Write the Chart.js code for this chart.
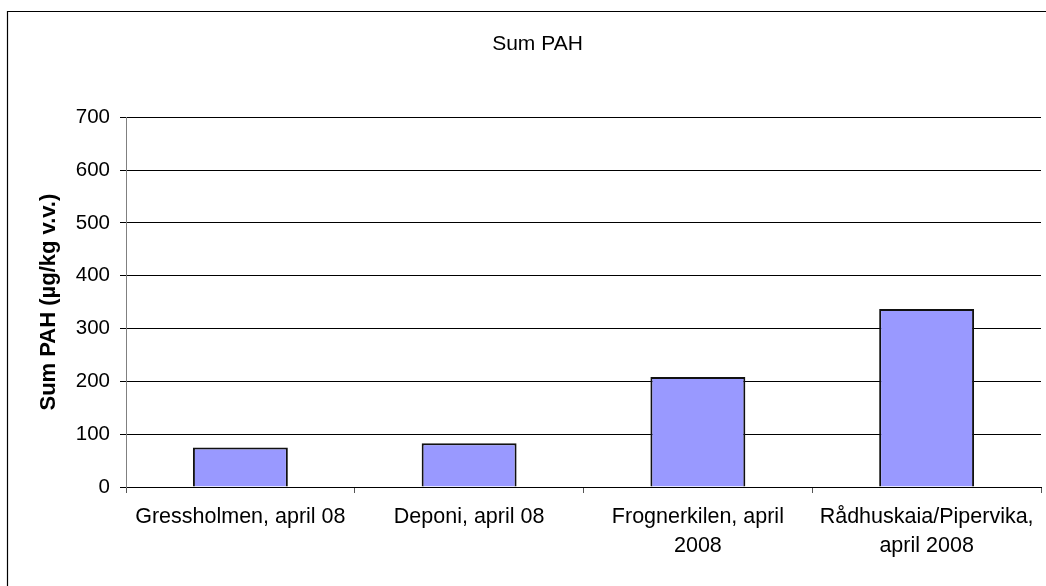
<!DOCTYPE html>
<html>
<head>
<meta charset="utf-8">
<script src="https://cdn.jsdelivr.net/npm/chart.js@4.4.1/dist/chart.umd.min.js"></script>
<style>
  body { margin: 0; background: #fff; overflow: hidden; }
  #wrap { position: relative; width: 1046px; height: 586px; }
</style>
</head>
<body>
<div id="wrap"><canvas id="pahChart" width="1046" height="586"></canvas></div>
<script>
// stations (multi-line labels like in the original)
const stations = [
  "Gressholmen, april 08",
  "Deponi, april 08",
  ["Frognerkilen, april", "2008"],
  ["Rådhuskaia/Pipervika,", "april 2008"]
];
const sumPAH = [75, 83, 208, 337];
const yTicks = [0, 100, 200, 300, 400, 500, 600, 700];

const chartTitle = "Sum PAH";
const yTitle = "Sum PAH (µg/kg v.v.)";

Chart.defaults.color = "#000";
Chart.defaults.font.family = "'Liberation Sans', Arial, sans-serif";

// frame round the chart (only left and top edge are visible)
const framePlugin = {
  id: "frame",
  afterDraw(chart) {
    const ctx = chart.ctx;
    ctx.save();
    ctx.strokeStyle = "#000";
    ctx.lineWidth = 1.2;
    ctx.beginPath();
    ctx.moveTo(7.5, 586);
    ctx.lineTo(7.5, 11.5);
    ctx.lineTo(1046, 11.5);
    ctx.stroke();
    ctx.restore();
  }
};

new Chart("pahChart", {
  type: "bar",
  data: {
    labels: stations,
    datasets: [{
      data: sumPAH,
      backgroundColor: "#9999FF",
      borderColor: "#111",
      borderWidth: 2,
      barPercentage: 0.415,
      categoryPercentage: 1
    }]
  },
  options: {
    responsive: false,
    animation: false,
    layout: { padding: { left: 34, right: 5, top: 0, bottom: 0 } },
    plugins: {
      legend: { display: false },
      tooltip: { enabled: false },
      title: {
        display: true,
        text: chartTitle,
        font: { size: 21, weight: "normal", lineHeight: 1.2 },
        color: "#000",
        padding: { top: 32, bottom: 60 }
      }
    },
    scales: {
      x: {
        afterFit: function(scale) { scale.height = 99; },
        grid: {
          offset: true,
          drawOnChartArea: false,
          drawTicks: true,
          tickLength: 6,
          color: "#555"
        },
        border: { display: true, color: "#000", width: 1 },
        ticks: {
          maxRotation: 0,
          autoSkip: false,
          padding: 10,
          font: { size: 21.5, lineHeight: 1.35 },
          color: "#000"
        }
      },
      y: {
        min: 0,
        max: 700,
        afterFit: function(scale) { scale.width = 92; },
        afterBuildTicks: function(scale) {
          scale.ticks = yTicks.map(v => ({ value: v }));
        },
        grid: {
          color: "#000",
          lineWidth: 1,
          drawTicks: true,
          tickLength: 6
        },
        border: { display: true, color: "#808080", width: 1 },
        ticks: {
          padding: 10,
          font: { size: 20.5 },
          color: "#000"
        },
        title: {
          display: true,
          text: yTitle,
          font: { size: 22, weight: "bold", lineHeight: 1.2 },
          color: "#000",
          padding: { top: 2, bottom: 0 }
        }
      }
    }
  },
  plugins: [framePlugin]
});
</script>
</body>
</html>
